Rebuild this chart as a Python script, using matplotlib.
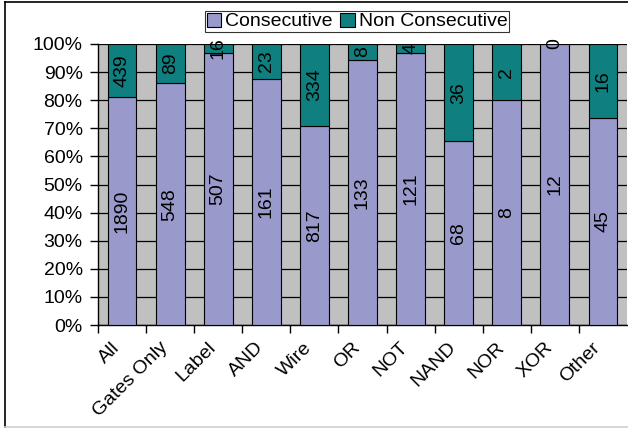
import numpy as np
import matplotlib
matplotlib.use("Agg")
import matplotlib.pyplot as plt
from matplotlib.lines import Line2D
from matplotlib.ticker import PercentFormatter
from matplotlib.transforms import ScaledTranslation

# Category names and counts
categories = ['All', 'Gates Only', 'Label', 'AND', 'Wire', 'OR', 'NOT',
              'NAND', 'NOR', 'XOR', 'Other']
consecutive = [1890, 548, 507, 161, 817, 133, 121, 68, 8, 12, 45]
non_consecutive = [439, 89, 16, 23, 334, 8, 4, 36, 2, 0, 16]

plt.rcParams['font.family'] = ['Liberation Sans', 'DejaVu Sans']
fs = 14

cons = np.array(consecutive, dtype=float)
non = np.array(non_consecutive, dtype=float)
total = cons + non
cons_pct = cons / total * 100
non_pct = non / total * 100

fig = plt.figure(figsize=(6.28, 4.29), dpi=100)
ax = fig.add_axes([98 / 628, 1 - 325 / 429, 529 / 628, (325 - 44) / 429])

purple = '#9999cc'
teal = '#0f7f7f'
ax.set_facecolor('#c0c0c0')

x = np.arange(len(categories))
bars1 = ax.bar(x, cons_pct, width=0.6, color=purple, edgecolor='black',
               linewidth=0.8, zorder=3, label='Consecutive')
bars2 = ax.bar(x, non_pct, width=0.6, bottom=cons_pct, color=teal,
               edgecolor='black', linewidth=0.8, zorder=3,
               label='Non Consecutive')

# value labels, rotated, centred in each segment
for i in range(len(categories)):
    ax.text(x[i], cons_pct[i] / 2, str(consecutive[i]), rotation=90,
            ha='center', va='center', fontsize=fs, zorder=4)
    ax.text(x[i], cons_pct[i] + non_pct[i] / 2, str(non_consecutive[i]),
            rotation=90, ha='center', va='center', fontsize=fs, zorder=4)

ax.set_xlim(-0.5, len(categories) - 0.5)
ax.set_ylim(0, 100)
ax.set_yticks(np.arange(0, 101, 10))
ax.yaxis.set_major_formatter(PercentFormatter(decimals=0))
ax.yaxis.grid(True, color='black', linewidth=0.9, zorder=1)
ax.set_axisbelow(True)

ax.set_xticks(x - 0.5, minor=False)
ax.set_xticklabels([])
ax.set_xticks(x, minor=True)
ax.set_xticklabels(categories, minor=True, rotation=45, ha='right',
                   rotation_mode='anchor', fontsize=fs)
ax.tick_params(axis='x', which='minor', length=0, pad=5)
ax.tick_params(axis='x', which='major', length=6, width=1, color='black')
ax.tick_params(axis='y', length=6, width=1, labelsize=fs, direction='out',
               pad=5)

# nudge category labels left/down like the original
shift = ScaledTranslation(-11 / 100, -7 / 100, fig.dpi_scale_trans)
for lbl in ax.get_xticklabels(minor=True):
    lbl.set_transform(lbl.get_transform() + shift)

for side in ['top', 'right']:
    ax.spines[side].set_visible(False)
ax.spines['left'].set_linewidth(1)
ax.spines['bottom'].set_linewidth(1)

fig.legend(handles=[bars1, bars2], labels=['Consecutive', 'Non Consecutive'],
           loc='center', bbox_to_anchor=(357 / 628, 1 - 21.5 / 429), ncol=2,
           fontsize=fs, frameon=True, fancybox=False, edgecolor='black',
           handlelength=0.75, handleheight=0.75, handletextpad=0.2,
           columnspacing=0.4, borderpad=0.1, borderaxespad=0)
leg = fig.legends[0]
leg.get_frame().set_linewidth(0.8)

# outer chart frame
fig.add_artist(Line2D([5 / 628, 5 / 628], [1 - 2 / 429, 1 - 427 / 429],
                      color='black', linewidth=1.2))
fig.add_artist(Line2D([5 / 628, 1], [1 - 2 / 429, 1 - 2 / 429],
                      color='black', linewidth=1.2))
fig.add_artist(Line2D([5 / 628, 1], [1 - 427 / 429, 1 - 427 / 429],
                      color='#d0d0d0', linewidth=1.2))

fig.savefig('out.png', dpi=100)
